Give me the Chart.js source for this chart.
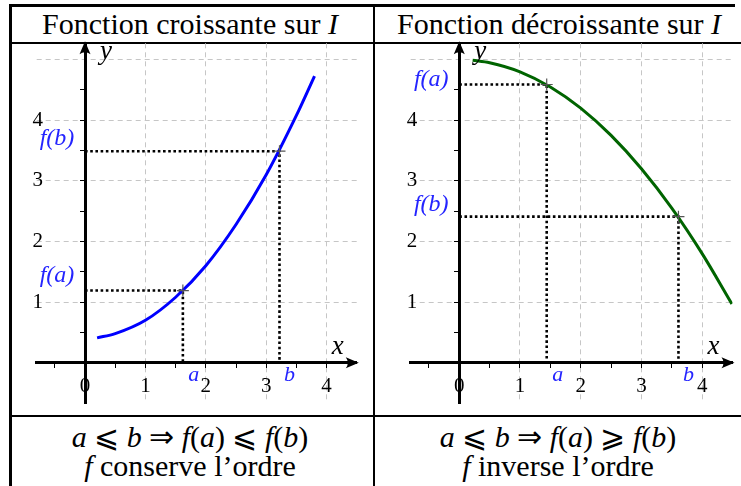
<!DOCTYPE html>
<html><head><meta charset="utf-8">
<script src="https://cdn.jsdelivr.net/npm/chart.js@4"></script>
<style>
html,body{margin:0;padding:0;background:#fff;width:741px;height:486px;overflow:hidden;position:relative;}
.ln{position:absolute;background:#000;}
.txt{position:absolute;font-family:'Liberation Serif',serif;color:#000;white-space:nowrap;transform:translate(-50%,-50%);line-height:1;}
.txt i{font-style:italic;}
canvas{position:absolute;left:0;top:0;}
</style></head><body>
<div class="ln" style="left:9px;top:4px;width:726px;height:2.5px"></div>
<div class="ln" style="left:9px;top:41.5px;width:732px;height:2.5px"></div>
<div class="ln" style="left:9px;top:414.5px;width:732px;height:2px"></div>
<div class="ln" style="left:9px;top:4px;width:3px;height:482px"></div>
<div class="ln" style="left:372.5px;top:4px;width:2px;height:482px"></div>

<div class="txt" style="left:190px;top:24px;font-size:30px">Fonction croissante sur <i>I</i></div>
<div class="txt" style="left:559px;top:24px;font-size:30px">Fonction décroissante sur <i>I</i></div>
<div class="txt" style="left:190px;top:437px;font-size:30px"><i>a</i> ⩽ <i>b</i> ⇒ <i>f</i>(<i>a</i>) ⩽ <i>f</i>(<i>b</i>)</div>
<div class="txt" style="left:190px;top:466px;font-size:30px"><i>f</i> conserve l’ordre</div>
<div class="txt" style="left:558px;top:437px;font-size:30px"><i>a</i> ⩽ <i>b</i> ⇒ <i>f</i>(<i>a</i>) ⩾ <i>f</i>(<i>b</i>)</div>
<div class="txt" style="left:558px;top:466px;font-size:30px"><i>f</i> inverse l’ordre</div>

<canvas id="c1" width="741" height="486"></canvas>
<canvas id="c2" width="741" height="486"></canvas>
<script>
// ---- data ----
const X_TICKS = [-0.5, 0, 0.5, 1, 1.5, 2, 2.5, 3, 3.5, 4];
const Y_TICKS = [0.5, 1, 1.5, 2, 2.5, 3, 3.5, 4, 4.5, 5];
const X_TICK_LABELS = ['0', '1', '2', '3', '4'];   // shown at x = 0..4
const Y_TICK_LABELS = ['1', '2', '3', '4'];        // shown at y = 1..4

const INC_X = [0.2, 0.5, 1, 1.5, 2, 2.5, 3, 3.5, 3.8];
const INC_Y = [0.41, 0.48, 0.70, 1.08, 1.60, 2.28, 3.10, 4.08, 4.73];
const INC_MARKS = [1.62, 1.19, 3.22, 3.49];   // a, f(a), b, f(b)

const DEC_X = [0.22, 0.5, 1, 1.5, 2, 2.5, 3, 3.5, 4, 4.49];
const DEC_Y = [4.99, 4.95, 4.80, 4.55, 4.20, 3.75, 3.20, 2.55, 1.80, 0.97];
const DEC_MARKS = [1.44, 4.59, 3.61, 2.41];   // a, f(a), b, f(b)

const MARK_NAMES = ['a', 'f(a)', 'b', 'f(b)'];
const AXIS_NAMES = ['x', 'y'];

// ---- helpers ----
const SERIF = "'Liberation Serif', serif";
const LABEL_BLUE = '#2424ff';
const GAP = '\u2002\u2002\u2002\u2002';   // keeps y tick labels clear of the axis

function arrowHead(ctx, x, y, dir) {
  ctx.save();
  ctx.translate(x, y);
  if (dir === 'up') ctx.rotate(-Math.PI / 2);
  ctx.beginPath();
  ctx.moveTo(2, 0);
  ctx.lineTo(-11, -5.5);
  ctx.quadraticCurveTo(-7, 0, -11, 5.5);
  ctx.closePath();
  ctx.fillStyle = '#000';
  ctx.fill();
  ctx.restore();
}

function makeChart(id, pad, xs, ys, color, marks, labelOffsets) {
  const curve = xs.map((x, i) => ({x, y: ys[i]}));
  const [a, fa, b, fb] = marks;
  const guideA = [{x: 0, y: fa}, {x: a, y: fa}, {x: a, y: 0}];
  const guideB = [{x: 0, y: fb}, {x: b, y: fb}, {x: b, y: 0}];
  const dotted = {type: 'line', borderColor: '#000', borderWidth: 2.6, borderDash: [2.6, 2.6],
                  borderCapStyle: 'butt', pointRadius: 0, fill: false, tension: 0, order: 3};

  const decor = {
    id: 'decor',
    afterDraw(chart) {
      const {ctx, chartArea: ca, scales: {x: sx, y: sy}} = chart;
      const x0 = sx.getPixelForValue(0), y0 = sy.getPixelForValue(0);
      arrowHead(ctx, ca.right, y0, 'right');
      arrowHead(ctx, x0, ca.top, 'up');
      ctx.save();
      ctx.textAlign = 'center';
      ctx.textBaseline = 'middle';
      ctx.fillStyle = '#000';
      ctx.font = `italic 27px ${SERIF}`;
      ctx.fillText(AXIS_NAMES[0], ca.right - 19, y0 - 16);
      ctx.fillText(AXIS_NAMES[1], x0 + 21, ca.top + 9);
      ctx.fillStyle = LABEL_BLUE;
      ctx.font = `italic 22px ${SERIF}`;
      ctx.fillText(MARK_NAMES[0], sx.getPixelForValue(a) + 11, y0 + 13);
      ctx.fillText(MARK_NAMES[2], sx.getPixelForValue(b) + 10, y0 + 13);
      ctx.font = `italic 24px ${SERIF}`;
      ctx.fillText(MARK_NAMES[1], x0 - 28, sy.getPixelForValue(fa) + labelOffsets[0]);
      ctx.fillText(MARK_NAMES[3], x0 - 28, sy.getPixelForValue(fb) + labelOffsets[1]);
      ctx.restore();
    }
  };

  const gridColor = c => (c.tick && Number.isInteger(c.tick.value) && c.tick.value !== 0) ? '#c6c6c6' : 'rgba(0,0,0,0)';

  return new Chart(document.getElementById(id), {
    type: 'line',
    data: {
      datasets: [
        {data: curve, borderColor: color, borderWidth: 3, pointRadius: 0, fill: false,
         cubicInterpolationMode: 'monotone', order: 1},
        Object.assign({data: guideA}, dotted),
        Object.assign({data: guideB}, dotted),
        {data: [{x: a, y: fa}, {x: b, y: fb}], showLine: false, pointStyle: 'cross',
         pointRadius: 6, pointBorderColor: '#555', pointBorderWidth: 1.2, order: 0}
      ]
    },
    options: {
      responsive: false,
      animation: false,
      devicePixelRatio: 1,
      layout: {padding: pad},
      plugins: {legend: {display: false}, tooltip: {enabled: false}},
      scales: {
        x: {
          type: 'linear', min: -0.8, max: 4.5, position: {y: 0},
          afterBuildTicks: s => { s.ticks = X_TICKS.map(v => ({value: v})); },
          afterFit: s => { s.height = 0; },
          grid: {color: gridColor, lineWidth: 1, tickLength: 4, tickColor: '#000', tickWidth: 1},
          border: {display: true, color: '#000', width: 3, dash: [5, 4]},
          ticks: {
            autoSkip: false, maxRotation: 0, padding: 7, color: '#000',
            font: {family: SERIF, size: 21},
            callback: v => Number.isInteger(v) && v >= 0 ? X_TICK_LABELS[v] : ''
          }
        },
        y: {
          type: 'linear', min: -0.67, max: 5.27, position: {x: 0},
          afterBuildTicks: s => { s.ticks = Y_TICKS.map(v => ({value: v})); },
          afterFit: s => { s.width = 0; },
          grid: {color: gridColor, lineWidth: 1, tickLength: 4,
                 tickColor: c => (c.tick && c.tick.value === 5) ? 'rgba(0,0,0,0)' : '#000', tickWidth: 1},
          border: {display: true, color: '#000', width: 3, dash: [5, 4]},
          ticks: {
            autoSkip: false, padding: 16, color: '#000',
            font: {family: SERIF, size: 21},
            callback: v => (Number.isInteger(v) && v >= 1 && v <= 4) ? Y_TICK_LABELS[v - 1] + GAP : ''
          }
        }
      }
    },
    plugins: [decor]
  });
}

makeChart('c1', {left: 36.7, right: 741 - 356.8, top: 43.3, bottom: 486 - 403.3},
          INC_X, INC_Y, '#0000ff', INC_MARKS, [-15, -12]);
makeChart('c2', {left: 410.7, right: 741 - 732.5, top: 43.3, bottom: 486 - 403.3},
          DEC_X, DEC_Y, '#006400', DEC_MARKS, [-5, -12]);
</script>
</body></html>
